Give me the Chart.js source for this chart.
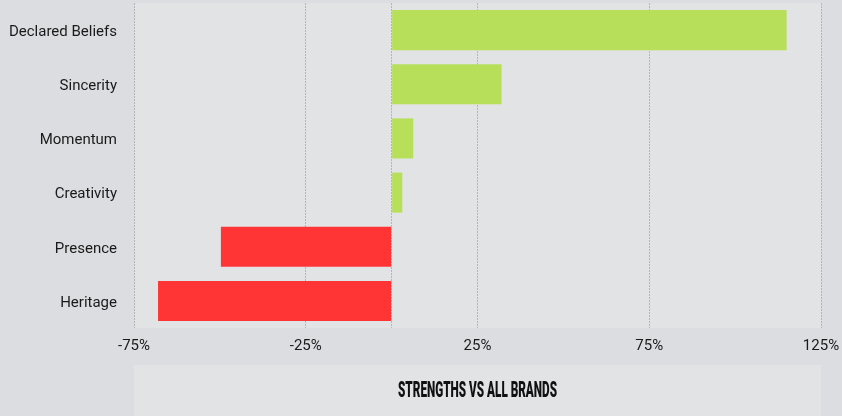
<!DOCTYPE html>
<html>
<head>
<meta charset="utf-8">
<script src="https://cdn.jsdelivr.net/npm/chart.js@4/dist/chart.umd.min.js"></script>
<style>
  html, body { margin: 0; padding: 0; background: #dcdde0; }
  #wrap { width: 842px; height: 416px; position: relative; }
</style>
</head>
<body>
<div id="wrap"><canvas id="myChart" width="842" height="416"></canvas></div>
<script>
// data
const categories = ['Declared Beliefs', 'Sincerity', 'Momentum', 'Creativity', 'Presence', 'Heritage'];
const strengths = [115, 32, 6.3, 3.1, -49.7, -68];
const tickValues = [-75, -25, 0, 25, 75, 125];
const title = 'STRENGTHS VS ALL BRANDS';

const green = '#b7df5a';
const red = '#ff3535';
const pageBg = '#dcdde0';
const panelBg = '#e2e3e5';

const ctx = document.getElementById('myChart').getContext('2d');

// backgrounds + bottom title box
const panels = {
    id: 'panels',
    beforeDraw(chart) {
        const { ctx, chartArea: a } = chart;
        ctx.save();
        ctx.fillStyle = pageBg;
        ctx.fillRect(0, 0, chart.width, chart.height);
        ctx.fillStyle = panelBg;
        ctx.fillRect(a.left, a.top, a.right - a.left, a.bottom - a.top);
        ctx.fillRect(a.left, 365, a.right - a.left, chart.height - 365);
        ctx.restore();
    },
    afterDraw(chart) {
        const { ctx } = chart;
        const cx = chart.scales.x.getPixelForValue(25);
        ctx.save();
        ctx.font = '900 22px Roboto';
        ctx.fillStyle = '#111';
        ctx.textBaseline = 'middle';
        ctx.textAlign = 'center';
        const w = ctx.measureText(title).width;
        ctx.translate(cx, 391);
        ctx.scale(159 / w, 1);
        ctx.fillText(title, 0, 0);
        ctx.restore();
    }
};

const config = {
    type: 'bar',
    data: {
        labels: categories,
        datasets: [{
            data: strengths,
            backgroundColor: strengths.map(v => v >= 0 ? green : red),
            borderWidth: 0,
            categoryPercentage: 1,
            barPercentage: 0.74
        }]
    },
    options: {
        indexAxis: 'y',
        responsive: false,
        animation: false,
        layout: { padding: { top: 3, right: 21, bottom: 51, left: 0 } },
        plugins: {
            legend: { display: false },
            tooltip: { enabled: false }
        },
        scales: {
            x: {
                min: -75,
                max: 125,
                afterBuildTicks(axis) {
                    axis.ticks = tickValues.map(v => ({ value: v }));
                },
                afterFit(axis) {
                    axis.height = 37;
                    axis.paddingLeft = 0;
                    axis.paddingRight = 0;
                },
                grid: { color: '#b4b5b8', lineWidth: 1, drawTicks: false },
                border: { display: false, dash: [2, 1] },
                ticks: {
                    padding: 9,
                    color: '#1a1a1a',
                    font: { family: 'Roboto', size: 15 },
                    maxRotation: 0,
                    autoSkip: false,
                    callback: v => v === 0 ? '' : v + '%'
                }
            },
            y: {
                afterFit(axis) {
                    axis.width = 134;
                    axis.paddingTop = 0;
                    axis.paddingBottom = 0;
                },
                grid: { display: false, drawTicks: false },
                border: { display: false },
                ticks: {
                    padding: 17,
                    labelOffset: 2,
                    color: '#1a1a1a',
                    font: { family: 'Roboto', size: 15 }
                }
            }
        }
    },
    plugins: [panels]
};

const chart = new Chart(ctx, config);
</script>
</body>
</html>
